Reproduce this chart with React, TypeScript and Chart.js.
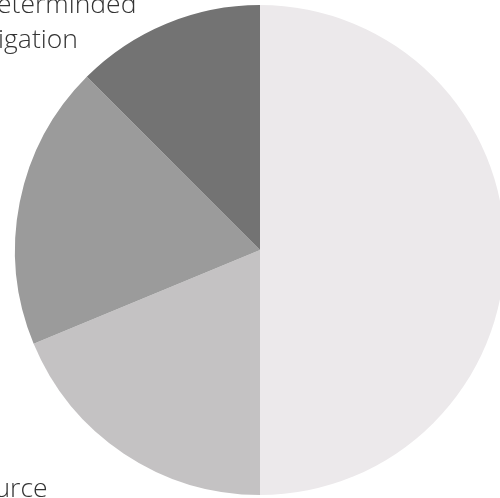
import React, { useEffect, useRef } from "react";
import { Chart, registerables } from "chart.js";

Chart.register(...registerables);

const categories = [
  "Human activity",
  "Unknown source",
  "Lightning",
  "Cause undeterminded\ninvestigation",
];
const values = [8, 3, 3, 2];
const colors = ["#ece9eb", "#c4c2c3", "#9b9b9b", "#737373"];
// label placement offsets relative to each slice's outer mid-point (style only)
const labelOffsets = [
  { dx: 0, dy: 0, show: false },
  { dx: -177, dy: 43, show: true },
  { dx: 0, dy: 0, show: false },
  { dx: -163, dy: -11, show: true },
];

const labelPlugin = {
  id: "outerLabels",
  afterDraw(chart: any) {
    const ctx = chart.ctx;
    const meta = chart.getDatasetMeta(0);
    ctx.save();
    ctx.font = "300 26.5px 'Open Sans'";
    ctx.fillStyle = "#333333";
    ctx.textAlign = "center";
    ctx.textBaseline = "alphabetic";
    meta.data.forEach((arc: any, i: number) => {
      const p = arc.getProps(["x", "y", "startAngle", "endAngle", "outerRadius"], true);
      const mid = (p.startAngle + p.endAngle) / 2;
      const ex = p.x + Math.cos(mid) * p.outerRadius;
      const ey = p.y + Math.sin(mid) * p.outerRadius;
      const off = labelOffsets[i];
      if (!off.show) return;
      const lines = String(chart.data.labels[i]).split("\n");
      lines.forEach((ln, k) => {
        ctx.fillText(ln, ex + off.dx, ey + off.dy + k * 35);
      });
    });
    ctx.restore();
  },
};

export default function App() {
  const ref = useRef<HTMLCanvasElement>(null);
  useEffect(() => {
    if (!ref.current) return;
    const chart = new Chart(ref.current, {
      type: "pie",
      data: {
        labels: categories,
        datasets: [
          {
            data: values,
            backgroundColor: colors,
            borderWidth: 0,
          },
        ],
      },
      options: {
        responsive: false,
        animation: false,
        layout: { padding: { left: 15, right: 0, top: 5, bottom: 3 } },
        plugins: {
          legend: { display: false },
          tooltip: { enabled: false },
        },
      },
      plugins: [labelPlugin],
    });
    return () => chart.destroy();
  }, []);
  return (
    <div
      style={{
        position: "fixed",
        top: 0,
        left: 0,
        width: 500,
        height: 498,
        overflow: "hidden",
        background: "#fff",
      }}
    >
      <canvas ref={ref} width={505} height={498} style={{ display: "block" }} />
    </div>
  );
}
